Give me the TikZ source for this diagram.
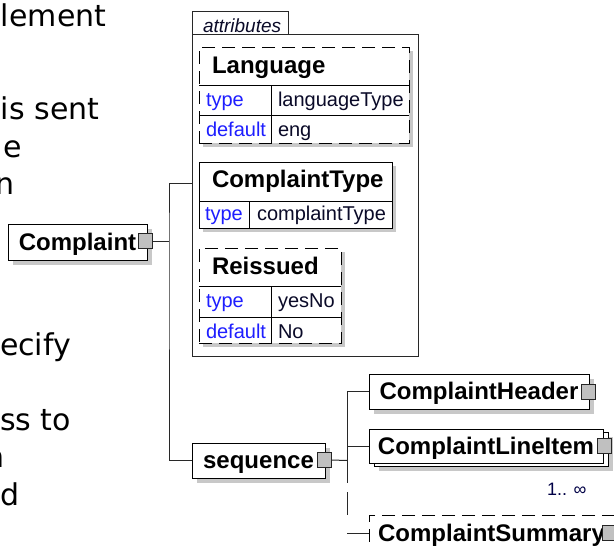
\documentclass[tikz,border=0pt]{standalone}
\usepackage{fontspec}
\setmainfont{Liberation Sans}
\newfontfamily\lfamily{DejaVu Sans}
\usetikzlibrary{shadows}
\definecolor{linecol}{RGB}{40,40,40}
\definecolor{shadowcol}{RGB}{200,200,200}
\definecolor{sqgray}{RGB}{192,192,192}
\definecolor{typeblue}{RGB}{30,30,255}
\definecolor{valcol}{RGB}{10,10,40}
\definecolor{multcol}{RGB}{0,0,70}
\newcommand\leftfnt{\lfamily\fontsize{30}{36}\selectfont}
\newcommand\elfnt{\fontsize{24}{28}\selectfont\bfseries}
\newcommand\rowfnt{\fontsize{20}{24}\selectfont}
\newcommand\tabfnt{\fontsize{19}{22}\selectfont\itshape}
\newcommand\multfnt{\fontsize{18}{22}\selectfont}
\begin{document}
\begin{tikzpicture}[x=1pt,y=-1pt,
  every node/.style={inner sep=0pt, outer sep=0pt},
  conn/.style={draw=linecol, line width=1pt},
  sh/.style={drop shadow={shadow xshift=5pt, shadow yshift=-5pt, fill=shadowcol, opacity=1}},
  elem/.style={draw=black, fill=white, line width=1pt, anchor=north west, font=\elfnt, text height=19pt, text depth=3pt},
  expsq/.style={draw=black!85, fill=sqgray, line width=1pt, minimum width=14pt, minimum height=15pt},
  dsh/.style={dash pattern=on 13pt off 7pt},
  tbl/.style={draw=black, fill=white, line width=1pt, anchor=north west, drop shadow={shadow xshift=4pt, shadow yshift=-4pt, fill=shadowcol, opacity=1}},
  tline/.style={draw=black, line width=1pt},
  hdrtxt/.style={anchor=base west, font=\elfnt},
  keytxt/.style={anchor=base west, font=\rowfnt, text=typeblue},
  valtxt/.style={anchor=base west, font=\rowfnt, text=valcol},
  lefttxt/.style={anchor=base west, font=\leftfnt}]
\useasboundingbox (0,0) rectangle (614,549);
\fill[white] (0,0) rectangle (614,549);

% left text fragments
\node[lefttxt] (t1) at (1,26) {lement};
\node[lefttxt] (t2) at (1,119) {is sent};
\node[lefttxt] (t3) at (4,157) {e};
\node[lefttxt] (t4) at (-5,194) {n};
\node[lefttxt] (t5) at (0,355) {ecify};
\node[lefttxt] (t6) at (0,430) {ss to};
\node[lefttxt] (t7) at (-14,467) {n};
\node[lefttxt] (t8) at (0,505) {d};

% attributes frame
\node[draw=linecol, line width=1pt, fill=white, anchor=north west, minimum width=226pt, minimum height=322pt] (attr) at (192,34) {};
\draw[linecol, line width=1pt] (attr.north west) -- ++(0,-23) -- ++(96,0) -- ++(0,23);
\node[anchor=base west, font=\tabfnt, text=valcol] (attrlbl) at (203,32) {attributes};

% Language
\node[tbl, dsh, minimum width=210pt, minimum height=96pt] (lang) at (199,47) {};
\draw[tline] (199,85) -- (409,85) (199,115) -- (409,115) (271,85) -- (271,143);
\node[hdrtxt] (langh) at (212,73) {Language};
\node[keytxt] (langk1) at (206,106) {type};
\node[valtxt] (langv1) at (278,106) {languageType};
\node[keytxt] (langk2) at (206,136) {default};
\node[valtxt] (langv2) at (278,136) {eng};

% ComplaintType
\node[tbl, minimum width=193pt, minimum height=66pt] (ctype) at (199,162) {};
\draw[tline] (199,201) -- (392,201) (249,201) -- (249,228);
\node[hdrtxt] (ctypeh) at (212,187) {ComplaintType};
\node[keytxt] (ctypek1) at (205,220) {type};
\node[valtxt] (ctypev1) at (257,220) {complaintType};

% Reissued
\node[tbl, dsh, minimum width=142pt, minimum height=95pt] (reis) at (199,248) {};
\draw[tline] (199,286) -- (341,286) (199,317) -- (341,317) (271,286) -- (271,343);
\node[hdrtxt] (reish) at (212,274) {Reissued};
\node[keytxt] (reisk1) at (206,307) {type};
\node[valtxt] (reisv1) at (278,307) {yesNo};
\node[keytxt] (reisk2) at (206,338) {default};
\node[valtxt] (reisv2) at (278,338) {No};

% Complaint element
\node[elem, sh, minimum width=139pt, minimum height=36pt] (cplx) at (8,224) {Complaint};
\node[expsq] (csq) at (145.5,241) {};
\coordinate (bus1) at (169,241);
\coordinate (attrin) at (192,183);

% sequence
\node[elem, sh, minimum width=133pt, minimum height=35pt] (seq) at (192,443) {sequence};
\node[expsq] (ssq) at (324.5,460) {};
\coordinate (bus2) at (347,460.5);
\coordinate (bus2d) at (347,483);
\coordinate (bus2e) at (347,533);

\draw[conn] (csq.east) -- (bus1);
\draw[conn] (attrin) -| (bus1) |- (seq.west);
\draw[conn] (ssq.east) -- (bus2);

% children
\node[elem, sh, minimum width=220pt, minimum height=35pt] (nHead) at (369,374) {ComplaintHeader};
\node[expsq] (hsq) at (588.5,391.5) {};

\node[elem, sh, minimum width=234pt, minimum height=34pt] (nLineBack) at (374,432) {};
\node[elem, minimum width=234pt, minimum height=34pt] (nLine) at (369,429) {ComplaintLineItem};
\node[expsq] (lsq) at (604,445.5) {};
\node[anchor=base west, font=\multfnt, text=multcol] (mult) at (547,495) {1.. ∞};

\node[elem, sh, dsh, minimum width=245pt, minimum height=36pt] (nSum) at (369,515) {ComplaintSummary};
\node[expsq] (smsq) at (609,533) {};

\draw[conn] (nHead.west) -| (bus2);
\draw[conn] (nLine.west) -| (bus2);
\draw[conn] (bus2) -- (bus2d);
\draw[conn, dash pattern=on 0pt off 9pt on 23pt off 10pt] (bus2d) -- (bus2e);
\draw[conn] (bus2e) -- (nSum.west);
\end{tikzpicture}
\end{document}
